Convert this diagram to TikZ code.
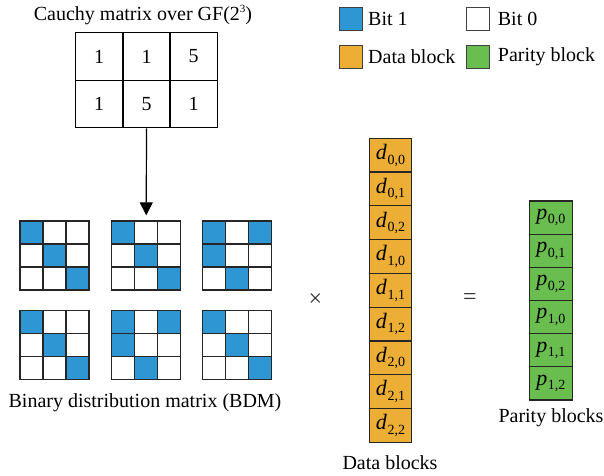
\documentclass[tikz,border=0pt]{standalone}
\usepackage{fontspec}
\setmainfont{Liberation Serif}
\usetikzlibrary{arrows.meta}
\definecolor{bitblue}{RGB}{47,150,212}
\definecolor{dataorange}{RGB}{236,174,52}
\definecolor{paritygreen}{RGB}{106,190,80}
% italic block symbol with an upright index pair below the baseline
\newcommand\blocklabel[2]{\textit{#1}\kern0.5pt\raisebox{-0.45ex}{\fontsize{14}{14}\selectfont #2}}

\begin{document}
\begin{tikzpicture}[x=1pt,y=-1pt,
  txt/.style={font=\fontsize{20}{24}\selectfont, inner sep=0pt},
  cauchycell/.style={draw=black, line width=1.3pt, minimum width=47.3pt,
    minimum height=47.5pt, inner sep=0pt, font=\fontsize{20}{24}\selectfont},
  bitcell/.style={draw=black!85, line width=1.4pt, minimum size=23pt,
    inner sep=0pt, fill=white},
  bitone/.style={bitcell, fill=bitblue},
  datacell/.style={draw=black!85, line width=1.2pt, fill=dataorange,
    minimum width=42.4pt, minimum height=33.8pt, inner sep=0pt,
    font=\fontsize{22}{24}\selectfont},
  paritycell/.style={draw=black!85, line width=1.2pt, fill=paritygreen,
    minimum width=43pt, minimum height=33.2pt, inner sep=0pt,
    font=\fontsize{22}{24}\selectfont},
  legendbox/.style={draw=black!75, line width=1.2pt, minimum size=23pt, inner sep=0pt},
  optext/.style={font=\fontsize{24}{26}\selectfont, inner sep=0pt, text=black!80},
]
\useasboundingbox (0,0) rectangle (604,475);

% legend
\node[legendbox, fill=bitblue] (lg1) at (350.8,19) {};
\node[txt, anchor=west] (lg1t) at (368,19) {Bit 1};
\node[legendbox, fill=white] (lg0) at (478.3,19) {};
\node[txt, anchor=west] (lg0t) at (497.7,19) {Bit 0};
\node[legendbox, fill=dataorange] (lgd) at (350.8,57) {};
\node[txt, anchor=west] (lgdt) at (368,57) {Data block};
\node[legendbox, fill=paritygreen] (lgp) at (478.3,57) {};
\node[txt, anchor=west] (lgpt) at (497.7,57) {Parity block};

% Cauchy matrix over GF(2^3)
\node[txt] (ctitle) at (143,15) {Cauchy matrix over GF(2\raisebox{0.8ex}{\fontsize{11}{11}\selectfont 3})};
\foreach \r/\y in {1/56.5,2/104}
  \foreach \c/\x in {1/99,2/146.5,3/193.5} {
    \pgfmathsetmacro\v{\r==1 ? (\c==3 ? 5 : 1) : (\c==2 ? 5 : 1)}
    \pgfmathtruncatemacro\vv{\v}
    \node[cauchycell] (cm-\r-\c) at (\x,\y) {\vv};
  }

% binary distribution matrices (3x3 bit blocks)
\foreach \m/\mx/\my/\ones in {
    a/20/221/{0/0,1/1,2/2},
    b/111.7/221/{0/0,1/1,2/2},
    c/202.7/221/{0/0,0/2,1/0,2/1},
    d/20/310.7/{0/0,1/1,2/2},
    e/111.7/310.7/{0/0,0/2,1/0,2/1},
    f/202.7/310.7/{0/0,1/1,2/2}} {
  \foreach \r in {0,1,2}
    \foreach \c in {0,1,2}
      \node[bitcell] (\m-\r-\c) at (\mx+11.5+23*\c, \my+11.5+23*\r) {};
  \foreach \r/\c in \ones
    \node[bitone] (\m-\r-\c) at (\mx+11.5+23*\c, \my+11.5+23*\r) {};
}
\node[txt] (bdm) at (145,403) {Binary distribution matrix (BDM)};

% expansion arrow
\draw[line width=1.2pt, -{Triangle[length=13pt,width=13pt]}, shorten >=5pt]
  (cm-2-2.south) -- (b-0-1.north);

% operators
\node[optext] (times) at (315.5,300) {×};
\node[optext] (equals) at (470,299) {=};

% data blocks
\foreach \i in {0,1,2}
  \foreach \j in {0,1,2} {
    \pgfmathtruncatemacro\k{3*\i+\j}
    \node[datacell] (d\k) at (390.5, 138.3+33.78*\k+16.89) {\blocklabel{d}{\i,\j}};
  }
\node[txt] (dlabel) at (390,463) {Data blocks};

% parity blocks
\foreach \i in {0,1}
  \foreach \j in {0,1,2} {
    \pgfmathtruncatemacro\k{3*\i+\j}
    \node[paritycell] (p\k) at (550.8, 201+33.17*\k+16.58) {\blocklabel{p}{\i,\j}};
  }
\node[txt] (plabel) at (551,418) {Parity blocks};
\end{tikzpicture}
\end{document}
